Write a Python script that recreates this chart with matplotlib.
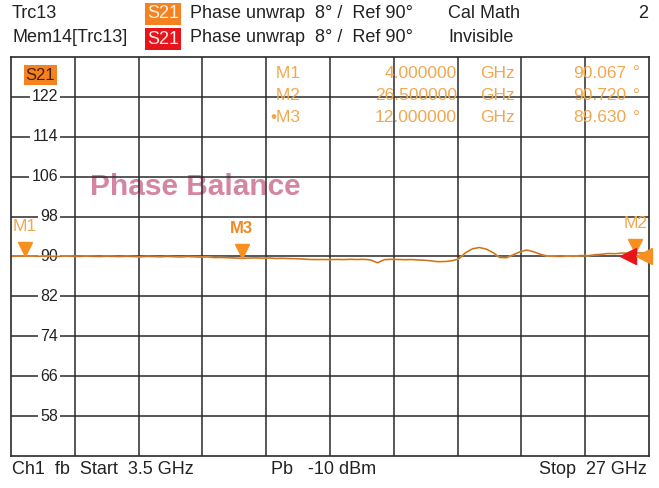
import matplotlib
matplotlib.use("Agg")
import matplotlib.pyplot as plt
import matplotlib.transforms as mtransforms
from matplotlib.patches import Rectangle

plt.rcParams['font.family'] = ['Liberation Sans', 'DejaVu Sans']

# ---------------- data ----------------
freq_ghz = [3.5, 3.75, 4.0, 4.25, 4.5, 4.75, 5.0, 5.25, 5.5, 5.75, 6.0, 6.25, 6.5, 6.75,
            7.0, 7.25, 7.5, 7.75, 8.0, 8.25, 8.5, 8.75, 9.0, 9.25, 9.5, 9.75, 10.0, 10.25,
            10.5, 10.75, 11.0, 11.25, 11.5, 11.75, 12.0, 12.25, 12.5, 12.75, 13.0, 13.25,
            13.5, 13.75, 14.0, 14.25, 14.5, 14.75, 15.0, 15.25, 15.5, 15.75, 16.0, 16.25,
            16.5, 16.75, 17.0, 17.25, 17.5, 17.75, 18.0, 18.25, 18.5, 18.75, 19.0, 19.25,
            19.5, 19.75, 20.0, 20.25, 20.5, 20.75, 21.0, 21.25, 21.5, 21.75, 22.0, 22.25,
            22.5, 22.75, 23.0, 23.25, 23.5, 23.75, 24.0, 24.25, 24.5, 24.75, 25.0, 25.25,
            25.5, 25.75, 26.0, 26.25, 26.5, 26.75, 27.0]
phase_deg = [90.05, 90.08, 90.07, 90.10, 90.04, 90.12, 90.06, 90.02, 90.09, 90.05, 90.00,
             90.07, 90.03, 89.98, 90.05, 90.02, 89.96, 90.04, 89.99, 89.92, 90.01, 89.97,
             89.93, 90.00, 89.95, 89.90, 89.97, 89.93, 89.88, 89.92, 89.78, 89.80, 89.74,
             89.70, 89.63, 89.68, 89.72, 89.66, 89.70, 89.62, 89.65, 89.58, 89.55, 89.50,
             89.42, 89.38, 89.40, 89.36, 89.42, 89.38, 89.45, 89.40, 89.44, 89.30, 88.75,
             89.35, 89.45, 89.40, 89.35, 89.38, 89.30, 89.25, 89.10, 88.95, 89.00, 89.15,
             89.55, 90.80, 91.55, 91.80, 91.50, 90.80, 89.80, 89.75, 90.35, 90.95, 91.30,
             90.95, 90.45, 90.10, 90.05, 90.00, 90.10, 90.05, 90.20, 90.15, 90.35, 90.45,
             90.60, 90.55, 90.70, 90.65, 90.72, 90.70, 90.75]

start_ghz, stop_ghz = 3.5, 27.0
y_min, y_max = 50, 130
y_tick_labels = [122, 114, 106, 98, 90, 82, 74, 66, 58]
ref_level = 90

marker_names = ["M1", "M2", "M3"]
marker_freqs = [4.0, 26.5, 12.0]
marker_values = [90.067, 90.720, 89.630]

# ---------------- figure ----------------
W, H = 659, 488
fig = plt.figure(figsize=(W / 100, H / 100), dpi=100)
fig.patch.set_facecolor('white')

L, R, T, B = 11, 649, 57, 456
ax = fig.add_axes([L / W, 1 - B / H, (R - L) / W, (B - T) / H])
ax.set_xlim(start_ghz, stop_ghz)
ax.set_ylim(y_min, y_max)
ax.set_xticks([])
ax.set_yticks([])
for s in ax.spines.values():
    s.set_color('#2a2a2a')
    s.set_linewidth(1.2)
    s.set_zorder(5)

grid_col = '#2a2a2a'
for i in range(1, 10):
    ax.axvline(start_ghz + i * (stop_ghz - start_ghz) / 10, color=grid_col, lw=1.1, zorder=2)
for i in range(1, 10):
    ax.axhline(y_min + i * (y_max - y_min) / 10, color=grid_col, lw=1.1, zorder=2)

# y labels inside first column
blend = mtransforms.blended_transform_factory(ax.transAxes, ax.transData)
for v in y_tick_labels:
    ax.text((58 - L) / (R - L), v, str(v), transform=blend, ha='right', va='center',
            fontsize=11.5, color='#222222', zorder=3,
            bbox=dict(boxstyle='square,pad=0.12', fc='white', ec='none'))

# Phase Balance watermark
ax.text((90 - L) / (R - L), 1 - (187 - T) / (B - T), "Phase Balance", transform=ax.transAxes,
        ha='left', va='center', fontsize=21.5, fontweight='bold', color='#d07898',
        alpha=0.9, zorder=1)

# traces
ax.plot(freq_ghz, phase_deg, color='#f0a040', lw=1.3, zorder=4)
ax.plot(freq_ghz, phase_deg, color='#a04818', lw=0.5, alpha=0.8, zorder=4)

# markers
mk_col = '#f7901e'
for name, f, v in zip(marker_names, marker_freqs, marker_values):
    trans = mtransforms.offset_copy(ax.transData, fig=fig, x=0, y=5, units='points')
    ax.plot([f], [v], marker='v', ms=10, color=mk_col, mec=mk_col, transform=trans,
            zorder=6, clip_on=False)
    ttrans = mtransforms.offset_copy(ax.transData, fig=fig, x=0, y=16, units='points')
    if name == "M3":
        ax.text(f, v, name, transform=ttrans, ha='center', va='bottom', fontsize=12,
                fontweight='bold', color='#f08a20', zorder=6)
    else:
        ax.text(f, v, name, transform=ttrans, ha='center', va='bottom', fontsize=12.5,
                color='#f0a850', zorder=6)

# reference level indicators at right edge
ax.plot([1 - 21 / (R - L)], [ref_level], marker='<', ms=11, color='#e8141c', transform=blend,
        zorder=7, clip_on=False)
ax.plot([1 - 5 / (R - L)], [ref_level], marker='<', ms=12, color='#f7901e', transform=blend,
        zorder=7, clip_on=False)

# S21 label in plot
ax.add_patch(Rectangle(((24 - L) / (R - L), 1 - (85 - T) / (B - T)), 33 / (R - L), 20 / (B - T),
                       transform=ax.transAxes, fc='#f58220', ec='none', zorder=3))
ax.text((40.5 - L) / (R - L), 1 - (75 - T) / (B - T), "S21", transform=ax.transAxes,
        ha='center', va='center', fontsize=12, color='#4a2000', zorder=4)

# marker readout table
tcol = '#f0a850'
tfs = 12.5
rows_y = [73, 96, 118]
for name, f, v, yy in zip(marker_names, marker_freqs, marker_values, rows_y):
    fy = 1 - yy / H
    label = ("\u2022" if name == "M3" else " ") + name
    fig.text(300 / W, fy, label, ha='right', va='center', fontsize=tfs, color=tcol, zorder=1)
    fig.text(457 / W, fy, f"{f:.6f}", ha='right', va='center', fontsize=tfs, color=tcol, zorder=1)
    fig.text(480 / W, fy, "GHz", ha='left', va='center', fontsize=tfs, color=tcol, zorder=1)
    fig.text(626 / W, fy, f"{v:.3f}", ha='right', va='center', fontsize=tfs, color=tcol, zorder=1)
    fig.text(633 / W, fy, "\u00b0", ha='left', va='center', fontsize=tfs, color=tcol, zorder=1)

# header
hfs = 13
def ftxt(x, y, s, **kw):
    fig.text(x / W, 1 - y / H, s, va='center', fontsize=kw.pop('fontsize', hfs),
             color=kw.pop('color', '#222222'), **kw)

ftxt(12, 14, "Trc13")
ftxt(12, 38, "Mem14[Trc13]")
fig.patches.append(Rectangle((145 / W, 1 - 25 / H), 36 / W, 22 / H, transform=fig.transFigure,
                             fc='#f58220', ec='none'))
fig.patches.append(Rectangle((145 / W, 1 - 50 / H), 36 / W, 22 / H, transform=fig.transFigure,
                             fc='#e8141c', ec='none'))
ftxt(163, 14, "S21", ha='center', color='#fff0e0')
ftxt(163, 39, "S21", ha='center', color='#ffe8e8')
ftxt(190, 14, "Phase unwrap  8\u00b0 /  Ref 90\u00b0")
ftxt(190, 38, "Phase unwrap  8\u00b0 /  Ref 90\u00b0")
ftxt(448, 14, "Cal Math")
ftxt(448, 38, "Invisible")
ftxt(648, 14, "2", ha='right')

# footer
ftxt(12, 470, "Ch1  fb  Start  3.5 GHz")
ftxt(271, 470, "Pb   -10 dBm")
ftxt(647, 470, "Stop  27 GHz", ha='right')

fig.savefig("out.png", dpi=100, facecolor='white')
